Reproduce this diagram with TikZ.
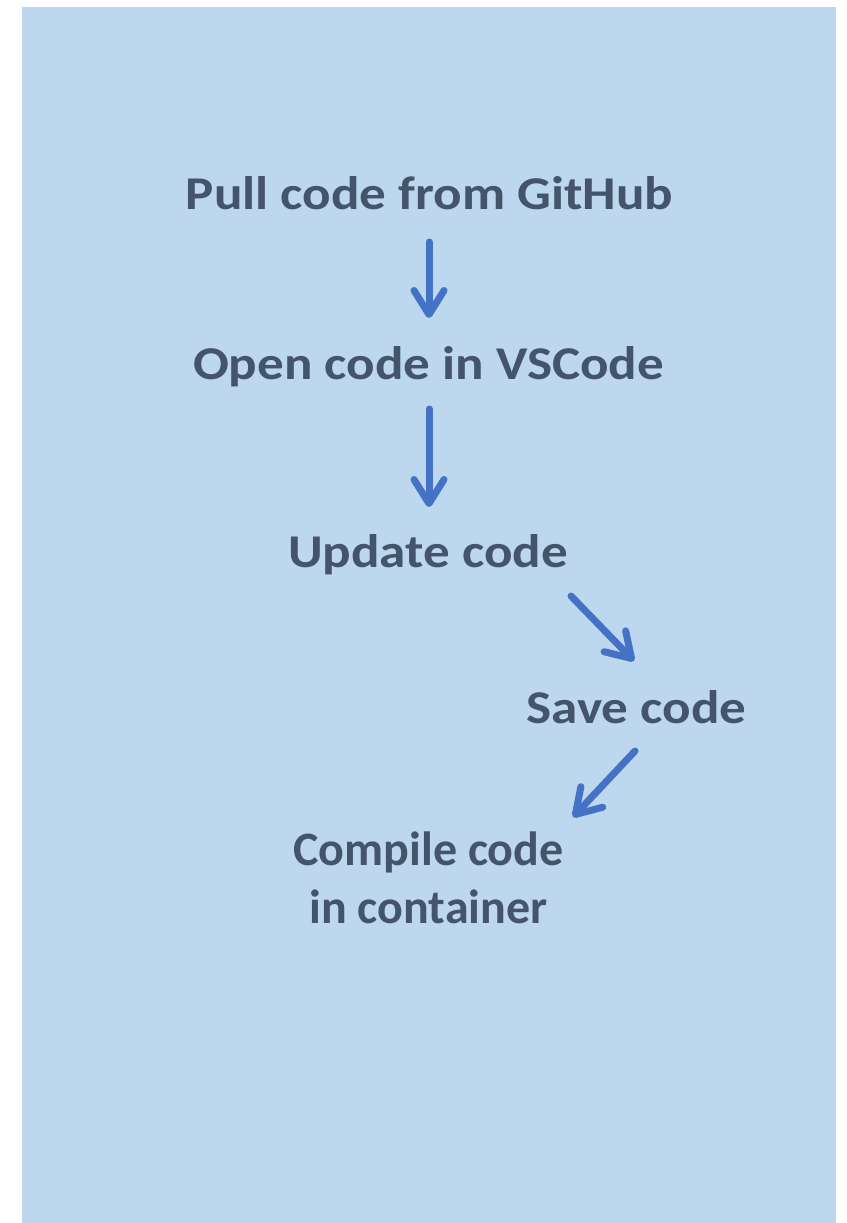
\documentclass[tikz,border=0pt]{standalone}
\usepackage{fontspec}
\setmainfont{Carlito}
\newfontfamily\lblfont[FakeStretch=1.13]{Carlito}
\usetikzlibrary{arrows.meta}
\definecolor{bgblue}{HTML}{BDD7EE}
\definecolor{txt}{HTML}{44546A}
\definecolor{arrblue}{HTML}{4472C4}
\tikzset{
  lbl/.style={font=\lblfont\fontsize{47}{58}\selectfont\bfseries, text=txt, inner sep=0pt, anchor=base, align=center},
  lblplain/.style={lbl, font=\fontsize{48}{58}\selectfont\bfseries},
  arr/.style={draw=arrblue, line width=7pt, line cap=round,
    -{Straight Barb[length=24pt,width=30pt,round]}}
}
\begin{document}
\begin{tikzpicture}[x=1pt,y=-1pt]
\useasboundingbox (0,0) rectangle (846,1223);
\fill[white] (0,0) rectangle (846,1223);
\fill[bgblue] (22,7) rectangle (836,1223);
\node[lbl] (pull) at (429.5,209) {Pull code from GitHub};
\node[lbl] (open) at (428.5,379) {Open code in VSCode};
\node[lbl] (update) at (428,567) {Update code};
\node[lbl] (save) at (636.5,723) {Save code};
\node[lblplain] (compile) at (428.5,923) {Compile code\\in container};
\coordinate (a1s) at (429,242);
\coordinate (a1e) at (429,318);
\coordinate (a2s) at (429,409);
\coordinate (a2e) at (429,507);
\coordinate (a3s) at (571,596);
\coordinate (a3e) at (634,661);
\coordinate (a4s) at (635,751);
\coordinate (a4e) at (573,817);
\draw[arr] (a1s) -- (a1e);
\draw[arr] (a2s) -- (a2e);
\draw[arr] (a3s) -- (a3e);
\draw[arr] (a4s) -- (a4e);
\end{tikzpicture}
\end{document}
